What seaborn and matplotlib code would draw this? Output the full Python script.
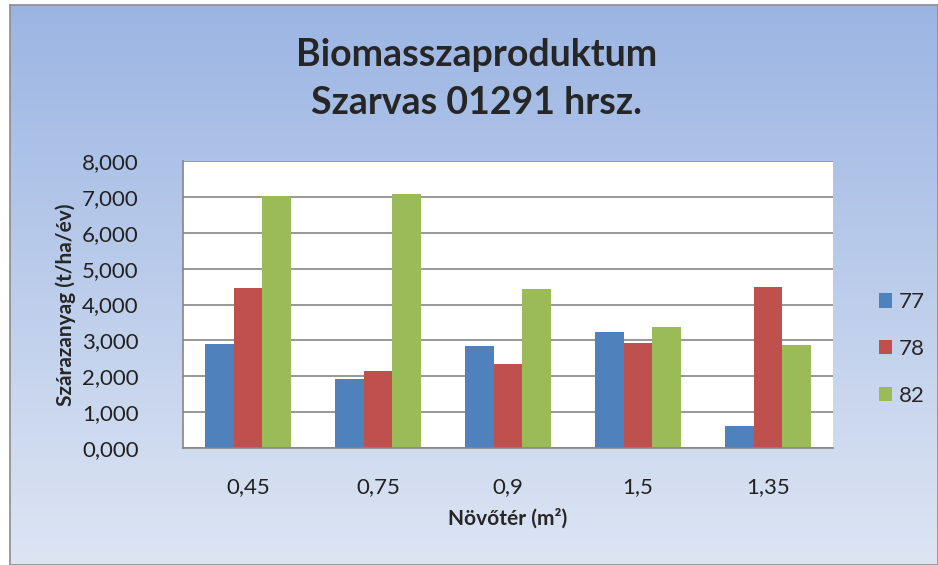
import numpy as np
import pandas as pd
import matplotlib
matplotlib.use("Agg")
import matplotlib.pyplot as plt
import seaborn as sns

# data
categories = ["0,45", "0,75", "0,9", "1,5", "1,35"]
series_names = ["77", "78", "82"]
values_77 = [2.91, 1.93, 2.83, 3.22, 0.61]
values_78 = [4.47, 2.14, 2.35, 2.92, 4.49]
values_82 = [7.03, 7.07, 4.44, 3.36, 2.88]
y_ticks = [0, 1, 2, 3, 4, 5, 6, 7, 8]
colors = ["#4f81bd", "#c0504d", "#9bbb59"]

df = pd.DataFrame({
    "cat": categories * 3,
    "series": ["77"] * 5 + ["78"] * 5 + ["82"] * 5,
    "value": values_77 + values_78 + values_82,
})

sns.set_style("white")
plt.rcParams["font.family"] = ["Lato", "DejaVu Sans"]

fig = plt.figure(figsize=(9.38, 5.65), dpi=100)
fig.patch.set_facecolor("white")

# gradient background with grey frame
bg = fig.add_axes([10 / 938, 0, 1 - 10 / 938, 1 - 5 / 565])
grad = np.linspace(0, 1, 256).reshape(-1, 1)
top = np.array([0x9b, 0xb5, 0xe3]) / 255
bottom = np.array([0xdd, 0xe5, 0xf3]) / 255
img = top + (bottom - top) * grad[:, :, None]
bg.imshow(img, aspect="auto", extent=[0, 1, 0, 1])
bg.set_xticks([])
bg.set_yticks([])
for s in bg.spines.values():
    s.set_color("#8c8c8c")
    s.set_linewidth(1.2)
bg.set_zorder(-1)

ax = fig.add_axes([183 / 938, 1 - 448 / 565, 650 / 938, 287 / 565])
ax.set_facecolor("white")
sns.barplot(data=df, x="cat", y="value", hue="series", order=categories,
            hue_order=series_names, palette=colors, width=0.667, gap=0,
            saturation=1, linewidth=0, ax=ax, legend=True)

ax.set_ylim(0, 8)
ax.set_yticks(y_ticks)
ax.set_yticklabels([f"{v},000" for v in y_ticks], fontsize=16, color="#222222")
ax.set_xlim(-0.5, len(categories) - 0.5)
ax.tick_params(axis="x", length=0, labelsize=16, pad=21, colors="#222222")
ax.tick_params(axis="y", length=6, width=1, color="#868686", pad=26)
ax.yaxis.grid(True, color="#868686", linewidth=1.2)
ax.set_axisbelow(True)
for side in ["top", "right"]:
    ax.spines[side].set_visible(False)
for side in ["left", "bottom"]:
    ax.spines[side].set_color("#868686")
    ax.spines[side].set_linewidth(1.2)

ax.set_xlabel("Növőtér (m²)", fontsize=15, fontweight="bold", labelpad=8)
ax.set_ylabel("Szárazanyag (t/ha/év)", fontsize=15, fontweight="bold", labelpad=4)

leg = ax.legend(loc="center left", bbox_to_anchor=(1.04, 0.345), frameon=False,
                fontsize=16, handlelength=0.6, handleheight=0.6,
                handletextpad=0.3, labelspacing=1.2, title=None)

fig.text(0.508, 0.903, "Biomasszaproduktum", ha="center", va="center",
         fontsize=27, fontweight="bold")
fig.text(0.508, 0.818, "Szarvas 01291 hrsz.", ha="center", va="center",
         fontsize=27, fontweight="bold")

fig.savefig("out.png", dpi=100)
